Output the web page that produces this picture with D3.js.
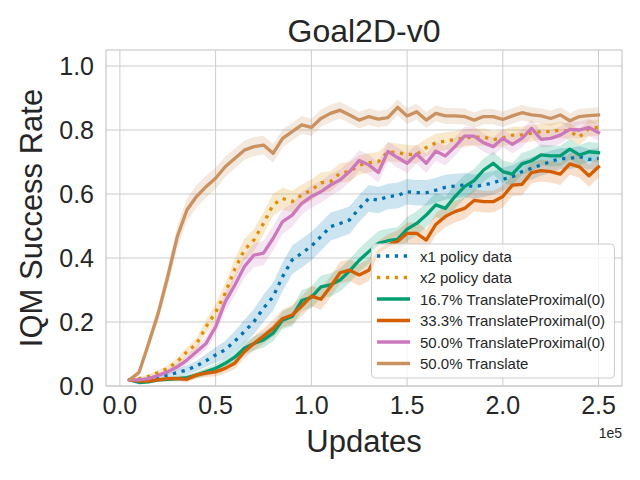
<!DOCTYPE html>
<html>
<head>
<meta charset="utf-8">
<script src="https://cdn.jsdelivr.net/npm/d3@7"></script>
<style>
html,body{margin:0;padding:0;background:#fff;}
text{font-family:"Liberation Sans",Arial,sans-serif;fill:#262626;}
</style>
</head>
<body>
<svg id="chart" width="640" height="480"></svg>
<script>
const title = "Goal2D-v0";
const xLabel = "Updates";
const yLabel = "IQM Success Rate";
const xTicks = [0, 50000, 100000, 150000, 200000, 250000];
const xTickLabels = ["0.0", "0.5", "1.0", "1.5", "2.0", "2.5"];
const yTicks = [0, 0.2, 0.4, 0.6, 0.8, 1.0];
const yTickLabels = ["0.0", "0.2", "0.4", "0.6", "0.8", "1.0"];
const offsetText = "1e5";

const updates = [5000,10000,15000,20000,25000,30000,35000,40000,45000,50000,
  55000,60000,65000,70000,75000,80000,85000,90000,95000,100000,
  105000,110000,115000,120000,125000,130000,135000,140000,145000,150000,
  155000,160000,165000,170000,175000,180000,185000,190000,195000,200000,
  205000,210000,215000,220000,225000,230000,235000,240000,245000,250000];

const seriesNames = ["x1 policy data", "x2 policy data", "16.7% TranslateProximal(0)",
  "33.3% TranslateProximal(0)", "50.0% TranslateProximal(0)", "50.0% Translate"];
const seriesColors = ["#0173b2", "#de8f05", "#029e73", "#d55e00", "#cc78bc", "#ca9161"];
const seriesDotted = [true, true, false, false, false, false];

const x1Policy = [.019,.015,.019,.029,.034,.042,.050,.063,.079,.097,
  .113,.140,.170,.201,.243,.279,.342,.394,.415,.437,
  .467,.498,.508,.519,.555,.586,.581,.592,.595,.607,
  .604,.604,.612,.621,.625,.628,.623,.628,.635,.646,
  .654,.670,.680,.691,.701,.711,.711,.717,.708,.711];
const x2Policy = [.019,.023,.030,.042,.055,.076,.107,.131,.185,.230,
  .290,.365,.425,.456,.508,.566,.586,.576,.597,.612,
  .635,.639,.665,.670,.690,.698,.701,.732,.729,.724,
  .724,.745,.760,.765,.770,.775,.778,.778,.770,.775,
  .784,.785,.790,.795,.795,.800,.795,.778,.805,.808];
const tp167 = [.019,.011,.013,.019,.021,.023,.026,.034,.044,.055,
  .071,.090,.118,.133,.144,.165,.206,.217,.267,.277,
  .310,.316,.331,.360,.393,.420,.446,.454,.458,.490,
  .508,.534,.566,.555,.592,.623,.642,.675,.696,.670,
  .662,.694,.704,.722,.719,.719,.740,.722,.732,.729];
const tp333 = [.019,.015,.015,.019,.023,.023,.021,.034,.040,.044,
  .055,.071,.107,.133,.156,.180,.211,.222,.250,.281,
  .271,.310,.354,.362,.347,.362,.420,.440,.452,.477,
  .477,.456,.505,.530,.545,.555,.580,.576,.576,.592,
  .628,.630,.667,.673,.670,.662,.694,.685,.657,.685];
const tp500 = [.019,.019,.023,.033,.044,.060,.081,.107,.133,.185,
  .263,.315,.373,.409,.415,.461,.514,.534,.571,.592,
  .607,.628,.644,.670,.705,.691,.667,.733,.714,.696,
  .725,.696,.734,.719,.748,.781,.781,.760,.748,.774,
  .755,.774,.805,.771,.774,.784,.802,.800,.808,.792];
const translate500 = [.019,.042,.133,.227,.342,.467,.550,.592,.623,.649,
  .685,.711,.737,.748,.753,.727,.774,.795,.816,.808,
  .836,.852,.862,.847,.831,.842,.834,.839,.871,.844,
  .857,.831,.852,.844,.844,.842,.831,.842,.842,.833,
  .844,.854,.847,.844,.836,.847,.829,.842,.845,.847];

// confidence-band half widths read from the shaded areas
const x1Band = [.004,.005,.006,.008,.010,.012,.014,.016,.020,.024,
  .028,.032,.036,.040,.042,.044,.045,.045,.045,.045,
  .044,.044,.043,.043,.042,.042,.041,.040,.040,.040,
  .040,.040,.039,.039,.038,.038,.038,.037,.037,.036,
  .036,.035,.035,.034,.034,.033,.033,.032,.032,.032];
const x2Band = [.004,.005,.006,.008,.010,.012,.015,.018,.022,.026,
  .030,.032,.034,.035,.035,.035,.034,.034,.033,.033,
  .032,.032,.031,.031,.030,.030,.030,.029,.029,.029,
  .028,.028,.028,.028,.027,.027,.027,.027,.026,.026,
  .026,.026,.026,.025,.025,.025,.025,.025,.025,.025];
const tp167Band = [.003,.004,.005,.006,.007,.008,.009,.010,.012,.014,
  .016,.018,.020,.022,.024,.026,.028,.030,.032,.034,
  .035,.036,.036,.037,.037,.038,.038,.038,.038,.038,
  .038,.038,.038,.037,.037,.037,.036,.036,.036,.035,
  .035,.034,.034,.033,.033,.032,.032,.031,.031,.030];
const tp333Band = [.003,.004,.005,.006,.007,.008,.009,.010,.012,.014,
  .016,.018,.020,.022,.024,.026,.028,.030,.031,.032,
  .033,.033,.034,.034,.034,.034,.034,.034,.034,.034,
  .034,.034,.034,.034,.034,.034,.034,.034,.034,.034,
  .034,.034,.034,.034,.034,.034,.034,.034,.034,.034];
const tp500Band = [.004,.005,.006,.008,.010,.012,.014,.017,.020,.024,
  .028,.032,.035,.037,.038,.038,.038,.037,.036,.035,
  .034,.034,.033,.033,.032,.032,.032,.031,.031,.031,
  .030,.030,.030,.030,.029,.029,.029,.029,.028,.028,
  .028,.028,.027,.027,.027,.027,.026,.026,.026,.026];
const translateBand = [.006,.010,.018,.024,.030,.034,.036,.035,.034,.033,
  .032,.031,.030,.030,.029,.029,.028,.028,.028,.027,
  .027,.027,.026,.026,.026,.026,.026,.025,.025,.025,
  .025,.025,.025,.025,.025,.025,.024,.024,.024,.024,
  .024,.024,.024,.024,.024,.024,.024,.024,.024,.024];

const seriesValues = [x1Policy, x2Policy, tp167, tp333, tp500, translate500];
const seriesBands = [x1Band, x2Band, tp167Band, tp333Band, tp500Band, translateBand];

const svg = d3.select("#chart");
const L = 106, R = 622, T = 50, B = 386;
const x = d3.scaleLinear().domain([-7250, 262250]).range([L, R]);
const y = d3.scaleLinear().domain([0, 1.05]).range([B, T]);

// grid
const grid = svg.append("g");
grid.selectAll("line.gx").data(xTicks).enter().append("line")
  .attr("x1", d => x(d)).attr("x2", d => x(d)).attr("y1", T).attr("y2", B)
  .attr("stroke", "#cccccc").attr("stroke-width", 1);
grid.selectAll("line.gy").data(yTicks).enter().append("line")
  .attr("x1", L).attr("x2", R).attr("y1", d => y(d)).attr("y2", d => y(d))
  .attr("stroke", "#cccccc").attr("stroke-width", 1);

// bands
const plot = svg.append("g");
seriesValues.forEach((vals, i) => {
  const band = seriesBands[i];
  const area = d3.area()
    .x((d, j) => x(updates[j]))
    .y0((d, j) => y(vals[j] - band[j]))
    .y1((d, j) => y(vals[j] + band[j]));
  plot.append("path").datum(vals).attr("d", area)
    .attr("fill", seriesColors[i]).attr("fill-opacity", 0.2).attr("stroke", "none");
});
// lines
seriesValues.forEach((vals, i) => {
  const line = d3.line().x((d, j) => x(updates[j])).y(d => y(d));
  const p = plot.append("path").datum(vals).attr("d", line)
    .attr("fill", "none").attr("stroke", seriesColors[i])
    .attr("stroke-width", 3.3).attr("stroke-linejoin", "round");
  if (seriesDotted[i]) p.attr("stroke-dasharray", "3.3,5.6").attr("stroke-linecap", "butt");
  else p.attr("stroke-linecap", "square");
});

// spines
svg.append("rect").attr("x", L).attr("y", T).attr("width", R - L).attr("height", B - T)
  .attr("fill", "none").attr("stroke", "#cccccc").attr("stroke-width", 1.25);

// tick labels
svg.append("g").selectAll("text").data(xTicks).enter().append("text")
  .attr("x", d => x(d)).attr("y", 414).attr("text-anchor", "middle")
  .attr("font-size", 25).text((d, i) => xTickLabels[i]);
svg.append("g").selectAll("text").data(yTicks).enter().append("text")
  .attr("x", L - 12).attr("y", d => y(d)).attr("dy", "0.36em").attr("text-anchor", "end")
  .attr("font-size", 25).text((d, i) => yTickLabels[i]);

svg.append("text").attr("x", R).attr("y", 438).attr("text-anchor", "end")
  .attr("font-size", 14).text(offsetText);

// labels
svg.append("text").attr("x", (L + R) / 2).attr("y", 452).attr("text-anchor", "middle")
  .attr("font-size", 31).text(xLabel);
svg.append("text").attr("transform", `translate(42,${(T + B) / 2}) rotate(-90)`)
  .attr("text-anchor", "middle").attr("font-size", 31).text(yLabel);
svg.append("text").attr("x", (L + R) / 2).attr("y", 42).attr("text-anchor", "middle")
  .attr("font-size", 32).text(title);

// legend
const lg = svg.append("g");
lg.append("rect").attr("x", 371.5).attr("y", 244).attr("width", 243).attr("height", 134)
  .attr("rx", 4).attr("fill", "#ffffff").attr("fill-opacity", 0.8)
  .attr("stroke", "#cccccc").attr("stroke-width", 1);
seriesNames.forEach((name, i) => {
  const cy = 256 + i * 21.5;
  const ln = lg.append("line").attr("x1", 377).attr("x2", 410).attr("y1", cy).attr("y2", cy)
    .attr("stroke", seriesColors[i]).attr("stroke-width", 3.3);
  if (seriesDotted[i]) ln.attr("stroke-dasharray", "3.3,5.6");
  lg.append("text").attr("x", 420).attr("y", cy + 5.5).attr("font-size", 15).text(name);
});
</script>
</body>
</html>
